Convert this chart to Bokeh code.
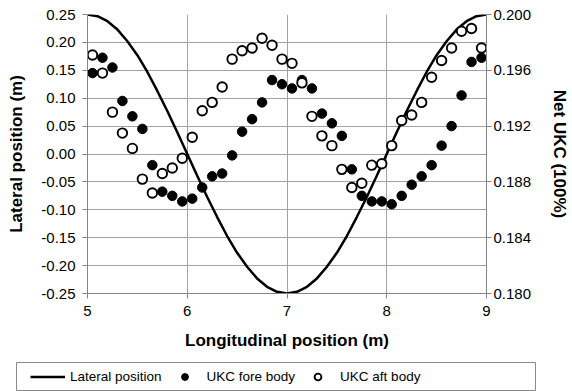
from bokeh.plotting import figure
from bokeh.models import (Range1d, LinearAxis, FixedTicker, NumeralTickFormatter,
                          Legend, LegendItem)
from bokeh.layouts import column
from bokeh.embed import file_html
from bokeh.resources import INLINE

# Lateral position of the model along its track (m)
lateral_x = [round(5.0 + 0.1 * i, 2) for i in range(41)]
lateral_y = [0.250, 0.247, 0.238, 0.223, 0.202, 0.177, 0.147, 0.113, 0.077, 0.039,
             0.000, -0.039, -0.077, -0.113, -0.147, -0.177, -0.202, -0.223, -0.238, -0.247,
             -0.250, -0.247, -0.238, -0.223, -0.202, -0.177, -0.147, -0.113, -0.077, -0.039,
             0.000, 0.039, 0.077, 0.113, 0.147, 0.177, 0.202, 0.223, 0.238, 0.247, 0.250]

# Net under-keel clearance samples (fraction of draught)
ukc_x = [round(5.05 + 0.1 * i, 2) for i in range(40)]
ukc_fore = [0.1958, 0.1969, 0.1962, 0.1938, 0.1927, 0.1918, 0.1892, 0.1873, 0.1870, 0.1866,
            0.1868, 0.1876, 0.1884, 0.1886, 0.1899, 0.1916, 0.1925, 0.1937, 0.1953, 0.1950,
            0.1947, 0.1953, 0.1947, 0.1929, 0.1922, 0.1913, 0.1889, 0.1870, 0.1866, 0.1866,
            0.1864, 0.1870, 0.1878, 0.1884, 0.1892, 0.1906, 0.1920, 0.1942, 0.1966, 0.1969]
ukc_aft = [0.1971, 0.1958, 0.1930, 0.1915, 0.1904, 0.1882, 0.1872, 0.1886, 0.1890, 0.1897,
           0.1912, 0.1931, 0.1937, 0.1948, 0.1968, 0.1974, 0.1976, 0.1983, 0.1978, 0.1968,
           0.1965, 0.1951, 0.1927, 0.1913, 0.1906, 0.1889, 0.1876, 0.1879, 0.1892, 0.1893,
           0.1906, 0.1924, 0.1928, 0.1937, 0.1955, 0.1967, 0.1976, 0.1988, 0.1990, 0.1976]

# Axis ticks
x_ticks = [5, 6, 7, 8, 9]
lateral_ticks = [-0.25, -0.20, -0.15, -0.10, -0.05, 0.00, 0.05, 0.10, 0.15, 0.20, 0.25]
ukc_ticks = [0.180, 0.184, 0.188, 0.192, 0.196, 0.200]

series_names = ["Lateral position", "UKC fore body", "UKC aft body"]

FONT = "Liberation Sans"
AXIS_GREY = "#858585"
GRID_GREY = "#a3a3a3"

LINE_STYLE = dict(line_color="black", line_width=2.5)
FORE_STYLE = dict(size=9.5, fill_color="black", line_color="black")
AFT_STYLE = dict(size=9.5, fill_color="white", line_color="black", line_width=1.9)

p = figure(width=572, height=361, output_backend="svg", toolbar_location=None,
           x_range=Range1d(5, 9), y_range=Range1d(-0.25, 0.25),
           min_border_left=87, min_border_right=86, min_border_top=14,
           min_border_bottom=68, background_fill_color="white",
           border_fill_color="white")
p.frame_align = False
p.outline_line_color = None
p.extra_y_ranges = {"ukc": Range1d(0.18, 0.20)}

# bottom axis
xa = p.xaxis[0]
xa.ticker = FixedTicker(ticks=x_ticks)
xa.axis_label = "Longitudinal position (m)"
# left axis
ya = p.yaxis[0]
ya.ticker = FixedTicker(ticks=lateral_ticks)
ya.formatter = NumeralTickFormatter(format="0.00")
ya.axis_label = "Lateral position (m)"
# right axis
ra = LinearAxis(y_range_name="ukc", ticker=FixedTicker(ticks=ukc_ticks),
                formatter=NumeralTickFormatter(format="0.000"),
                axis_label="Net UKC (100%)")
p.add_layout(ra, "right")

for ax in (xa, ya, ra):
    ax.axis_line_color = AXIS_GREY
    ax.major_tick_line_color = AXIS_GREY
    ax.major_tick_out = 5
    ax.major_tick_in = 0
    ax.minor_tick_line_color = None
    ax.major_label_text_font = FONT
    ax.major_label_text_font_size = "15px"
    ax.major_label_text_color = "black"
    ax.axis_label_text_font = FONT
    ax.axis_label_text_font_size = "17px"
    ax.axis_label_text_font_style = "bold"
    ax.axis_label_text_color = "black"

xa.major_label_standoff = 7
xa.axis_label_standoff = 12
ya.major_label_standoff = 7
ya.axis_label_standoff = 12
ra.major_label_standoff = 2
ra.axis_label_standoff = 16

p.xgrid.grid_line_color = GRID_GREY
p.ygrid.grid_line_color = GRID_GREY
p.xgrid.ticker = FixedTicker(ticks=x_ticks)
p.ygrid.ticker = FixedTicker(ticks=lateral_ticks)

p.line(lateral_x, lateral_y, **LINE_STYLE)
p.scatter(ukc_x, ukc_fore, y_range_name="ukc", **FORE_STYLE)
p.scatter(ukc_x, ukc_aft, y_range_name="ukc", **AFT_STYLE)

# legend strip underneath the chart: the frame outline forms the legend box,
# and the series are drawn outside its (0..1) ranges so only the swatches show
leg = figure(width=521, height=30, output_backend="svg", toolbar_location=None,
             x_axis_type=None, y_axis_type=None,
             x_range=Range1d(0, 1), y_range=Range1d(0, 1),
             min_border_left=1, min_border_right=1, min_border_top=1,
             min_border_bottom=1, background_fill_color="white",
             border_fill_color="white")
leg.frame_align = False
leg.margin = (0, 0, 0, 15)
leg.outline_line_color = "#8a8a8a"
leg.xgrid.visible = False
leg.ygrid.visible = False
s_line = leg.line(lateral_x, lateral_y, **LINE_STYLE)
s_fore = leg.scatter(ukc_x, ukc_fore, **FORE_STYLE)
s_aft = leg.scatter(ukc_x, ukc_aft, **AFT_STYLE)
legend = Legend(items=[LegendItem(label=series_names[0], renderers=[s_line]),
                       LegendItem(label=series_names[1], renderers=[s_fore]),
                       LegendItem(label=series_names[2], renderers=[s_aft])],
                orientation="horizontal", location=(14, 5), padding=0, margin=0,
                spacing=5, glyph_width=35, glyph_height=17, label_standoff=5,
                border_line_alpha=0, background_fill_alpha=0,
                label_text_font=FONT, label_text_font_size="13.5px",
                label_text_color="black")
leg.add_layout(legend, "center")

layout = column(p, leg, spacing=0)
open("out.html", "w").write(file_html(layout, INLINE))
